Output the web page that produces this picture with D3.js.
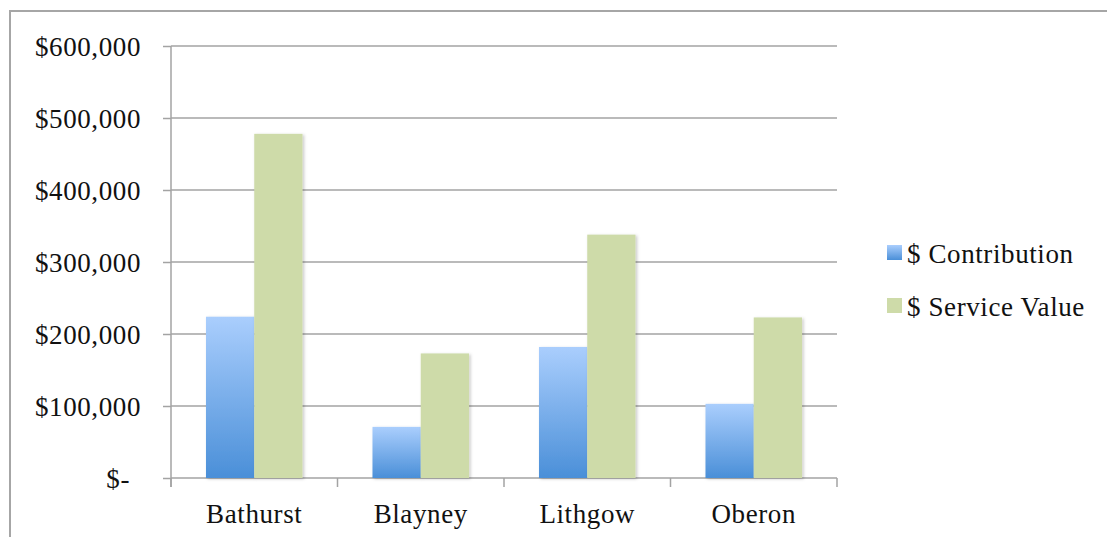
<!DOCTYPE html>
<html>
<head>
<meta charset="utf-8">
<script src="https://cdn.jsdelivr.net/npm/d3@7/dist/d3.min.js"></script>
<style>
  html, body { margin: 0; padding: 0; background: #fff; }
  svg { display: block; }
  text { font-family: "Liberation Serif", "Times New Roman", serif; fill: #111; letter-spacing: 0.6px; }
</style>
</head>
<body>
<svg id="chart" width="1107" height="537"></svg>
<script>
const categories = ["Bathurst", "Blayney", "Lithgow", "Oberon"];
const seriesNames = ["$ Contribution", "$ Service Value"];
const contribution = [224000, 71000, 182000, 103000];
const serviceValue = [478000, 173000, 338000, 223000];
const yTicks = [0, 100000, 200000, 300000, 400000, 500000, 600000];

const svg = d3.select("#chart");
const W = 1107, H = 537;
const plot = { left: 171, right: 837, top: 46, bottom: 478 };
const fontSize = 27;

const defs = svg.append("defs");
const grad = defs.append("linearGradient").attr("id", "blueGrad")
  .attr("x1", 0).attr("y1", 0).attr("x2", 0).attr("y2", 1);
grad.append("stop").attr("offset", "0%").attr("stop-color", "#aacefd");
grad.append("stop").attr("offset", "100%").attr("stop-color", "#4a8fd8");
const f = defs.append("filter").attr("id", "shadow").attr("x", "-20%").attr("y", "-20%").attr("width", "140%").attr("height", "140%");
f.append("feDropShadow").attr("dx", 1.5).attr("dy", 1).attr("stdDeviation", 1.5)
  .attr("flood-color", "#000").attr("flood-opacity", 0.22);

// outer border (left and top visible)
svg.append("path").attr("d", `M10,${H} L10,11 L${W},11`)
  .attr("fill", "none").attr("stroke", "#a6a6a6").attr("stroke-width", 2);

const y = d3.scaleLinear().domain([0, 600000]).range([plot.bottom, plot.top]);
const x0 = d3.scaleBand().domain(categories).range([plot.left, plot.right]).padding(0);
const x1 = d3.scaleBand().domain(seriesNames).range([0, x0.bandwidth()]).paddingInner(0).paddingOuter(0.725);

const gridColor = "#a3a3a3";

// gridlines
svg.append("g").selectAll("line").data(yTicks.filter(d => d > 0)).join("line")
  .attr("x1", plot.left).attr("x2", plot.right)
  .attr("y1", d => y(d)).attr("y2", d => y(d))
  .attr("stroke", gridColor).attr("stroke-width", 1.5);

// y axis
const yAxis = d3.axisLeft(y).tickValues(yTicks).tickSize(8).tickPadding(0)
  .tickFormat(d => d === 0 ? "$-" : "$" + d3.format(",")(d));
const gy = svg.append("g").attr("transform", `translate(${plot.left},0)`).call(yAxis);
gy.select(".domain").attr("d", `M0,${plot.top}V${plot.bottom + 9}`).attr("stroke", gridColor).attr("stroke-width", 1.5);
gy.selectAll(".tick line").attr("stroke", gridColor).attr("stroke-width", 1.5);
gy.selectAll(".tick text")
  .attr("x", d => d === 0 ? -41 : -30)
  .attr("dy", "0.36em")
  .attr("font-size", fontSize)
  .style("font-family", '"Liberation Serif", serif')
  .attr("fill", "#111");

// x axis
const xAxis = d3.axisBottom(x0).tickSize(0).tickPadding(0);
const gx = svg.append("g").attr("transform", `translate(0,${plot.bottom})`).call(xAxis);
gx.select(".domain").attr("d", `M${plot.left},0H${plot.right}`).attr("stroke", gridColor).attr("stroke-width", 1.5);
gx.selectAll(".tick text").attr("y", 44.5).attr("dy", 0)
  .attr("font-size", fontSize)
  .style("font-family", '"Liberation Serif", serif')
  .attr("fill", "#111");
// category boundary ticks
const bounds = categories.map(c => x0(c)).concat([x0(categories[categories.length - 1]) + x0.bandwidth()]);
gx.append("g").selectAll("line").data(bounds).join("line")
  .attr("x1", d => d).attr("x2", d => d).attr("y1", 0).attr("y2", 9)
  .attr("stroke", gridColor).attr("stroke-width", 1.5);

// bars
const rows = categories.map((c, i) => ({ cat: c, values: [contribution[i], serviceValue[i]] }));
const fills = ["url(#blueGrad)", "#cedba9"];
const groups = svg.append("g").selectAll("g").data(rows).join("g")
  .attr("transform", d => `translate(${x0(d.cat)},0)`);
groups.selectAll("rect").data(d => d.values.map((v, j) => ({ v, s: seriesNames[j], j }))).join("rect")
  .attr("x", d => x1(d.s))
  .attr("width", x1.bandwidth())
  .attr("y", d => y(d.v))
  .attr("height", d => y(0) - y(d.v))
  .attr("fill", d => fills[d.j])
  .attr("filter", "url(#shadow)");

// legend
const legend = svg.append("g").attr("transform", "translate(887,245)");
const li = legend.selectAll("g").data(seriesNames).join("g")
  .attr("transform", (d, i) => `translate(0,${i * 53})`);
li.append("rect").attr("width", 15).attr("height", 15).attr("fill", (d, i) => fills[i]);
li.append("text").attr("x", 20).attr("y", 18).attr("font-size", fontSize).text(d => d);
</script>
</body>
</html>
